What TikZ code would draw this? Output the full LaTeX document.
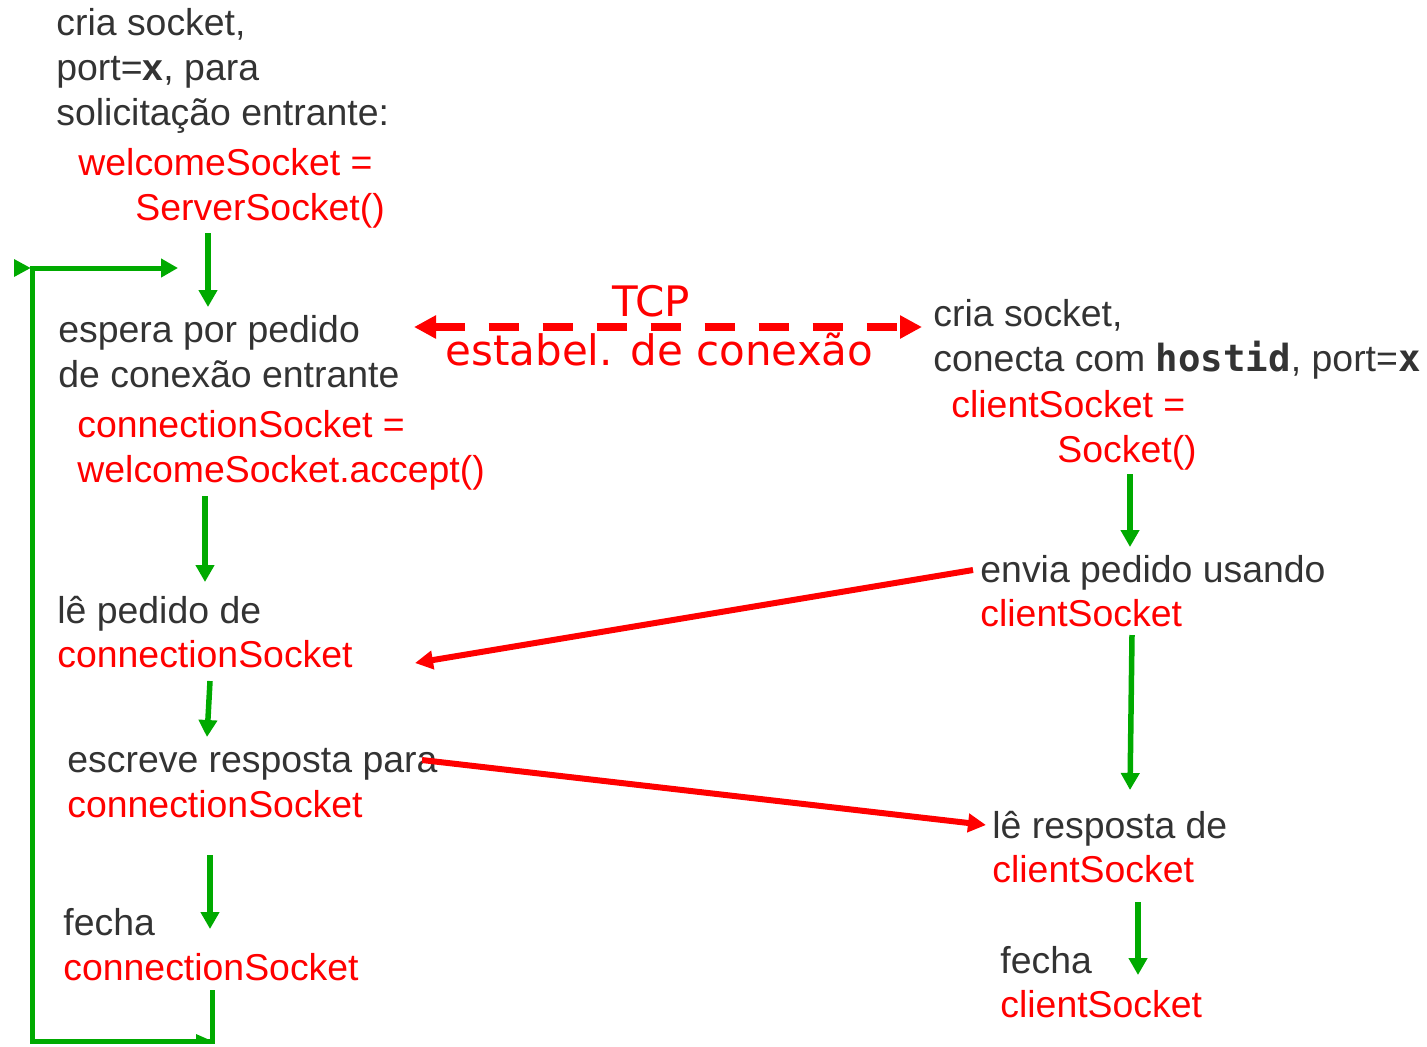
\documentclass[tikz,border=0pt]{standalone}
\usepackage{fontspec}
\setmainfont{Liberation Sans}
\newfontfamily\dejavu{DejaVu Sans}
\newfontfamily\dmono{DejaVu Sans Mono}
\usetikzlibrary{arrows.meta}
\definecolor{txt}{HTML}{333333}
\definecolor{grn}{HTML}{00AA00}
\definecolor{rd}{HTML}{FF0000}
\begin{document}
\begin{tikzpicture}[x=0.5pt,y=-0.5pt,
  lbl/.style={anchor=base west, inner sep=0pt, font=\fontsize{18.7}{22.5}\selectfont, text=txt},
  code/.style={lbl, text=rd},
  tcplbl/.style={inner sep=0pt, font=\dejavu\fontsize{21}{25}\selectfont, text=rd},
  flow/.style={draw=grn, line width=2.75pt, -{Triangle[length=8.5pt,width=9pt]}},
  loopline/.style={draw=grn, line width=2.5pt},
  msg/.style={draw=rd, line width=3pt, -{Triangle[length=9pt,width=9pt]}},
  tcp/.style={draw=rd, line width=4.3pt, dash pattern=on 15pt off 12pt,
     {Triangle[length=11pt,width=11pt]}-{Triangle[length=11pt,width=11pt]}},
]
\useasboundingbox (0,0) rectangle (1427,1046);

% ---- server side ----
\node[lbl] (s1a) at (56,35) {cria socket,};
\node[lbl] (s1b) at (56,80) {port=\textbf{x}, para};
\node[lbl] (s1c) at (56,125) {solicitação entrante:};
\node[code] (s1d) at (78,175) {welcomeSocket =};
\node[code] (s1e) at (135,220) {ServerSocket()};

\node[lbl] (s2a) at (58,342) {espera por pedido};
\node[lbl] (s2b) at (58,387) {de conexão entrante};
\node[code] (s2c) at (77,437) {connectionSocket =};
\node[code] (s2d) at (77,482) {welcomeSocket.accept()};

\node[lbl] (s3a) at (57,623) {lê pedido de};
\node[code] (s3b) at (57,667) {connectionSocket};

\node[lbl] (s4a) at (67,772) {escreve resposta para};
\node[code] (s4b) at (67,817) {connectionSocket};

\node[lbl] (s5a) at (63,935) {fecha};
\node[code] (s5b) at (63,980) {connectionSocket};

% ---- client side ----
\node[lbl] (c1a) at (933,326) {cria socket,};
\node[lbl] (c1b) at (933,371) {conecta com {\dmono\bfseries hostid}, port={\dmono\bfseries x}};
\node[code] (c1c) at (951,417) {clientSocket =};
\node[code] (c1d) at (1057,462) {Socket()};

\node[lbl] (c2a) at (980,582) {envia pedido usando};
\node[code] (c2b) at (980,626) {clientSocket};

\node[lbl] (c3a) at (992,838) {lê resposta de};
\node[code] (c3b) at (992,882) {clientSocket};

\node[lbl] (c4a) at (1000,973) {fecha};
\node[code] (c4b) at (1000,1017) {clientSocket};

% ---- TCP labels ----
\node[tcplbl, anchor=base] (tcpA) at (651,316) {TCP};
\node[tcplbl, anchor=base west] (tcpB) at (445,365) {estabel. de conexão};

% ---- coordinates for connectors ----
\coordinate (f1s) at (208,233); \coordinate (f1e) at (208,307);
\coordinate (f2s) at (205,496); \coordinate (f2e) at (205,582);
\coordinate (f3s) at (210,681); \coordinate (f3e) at (207,737);
\coordinate (f4s) at (210,855); \coordinate (f4e) at (210,929);
\coordinate (g1s) at (1130,474); \coordinate (g1e) at (1130,547);
\coordinate (g2s) at (1132,635); \coordinate (g2e) at (1130,790);
\coordinate (g3s) at (1138,902); \coordinate (g3e) at (1138,975);

\coordinate (lpA) at (212,990);
\coordinate (lpB) at (212,1041);
\coordinate (lpC) at (32,1041);
\coordinate (lpD) at (32,268);
\coordinate (lpE) at (178,268);
\coordinate (lpL) at (14,268);
\coordinate (lpR0) at (196,1041);

\coordinate (tcpL) at (414,327); \coordinate (tcpR) at (922,327);
\coordinate (m1s) at (973,570); \coordinate (m1e) at (415,663);
\coordinate (m2s) at (422,760); \coordinate (m2e) at (986,825);

% ---- green flow arrows ----
\draw[flow] (f1s) -- (f1e);
\draw[flow] (f2s) -- (f2e);
\draw[flow] (f3s) -- (f3e);
\draw[flow] (f4s) -- (f4e);
\draw[flow] (g1s) -- (g1e);
\draw[flow] (g2s) -- (g2e);
\draw[flow] (g3s) -- (g3e);

% ---- loop ----
\draw[loopline, -{Triangle[length=8.5pt,width=9pt]}] (lpA) -- (lpB) -- (lpC) -- (lpD) -- (lpE);
\fill[grn] (lpL) ++(0,-9) -- ++(16.5,9) -- ++(-16.5,9) -- cycle;
\fill[grn] (lpR0) ++(0,-7) -- ++(16,7) -- ++(0,2) -- ++(-16,0) -- cycle;

% ---- TCP handshake ----
\draw[tcp] (tcpL) -- (tcpR);

% ---- messages ----
\draw[msg] (m1s) -- (m1e);
\draw[msg] (m2s) -- (m2e);
\end{tikzpicture}
\end{document}
